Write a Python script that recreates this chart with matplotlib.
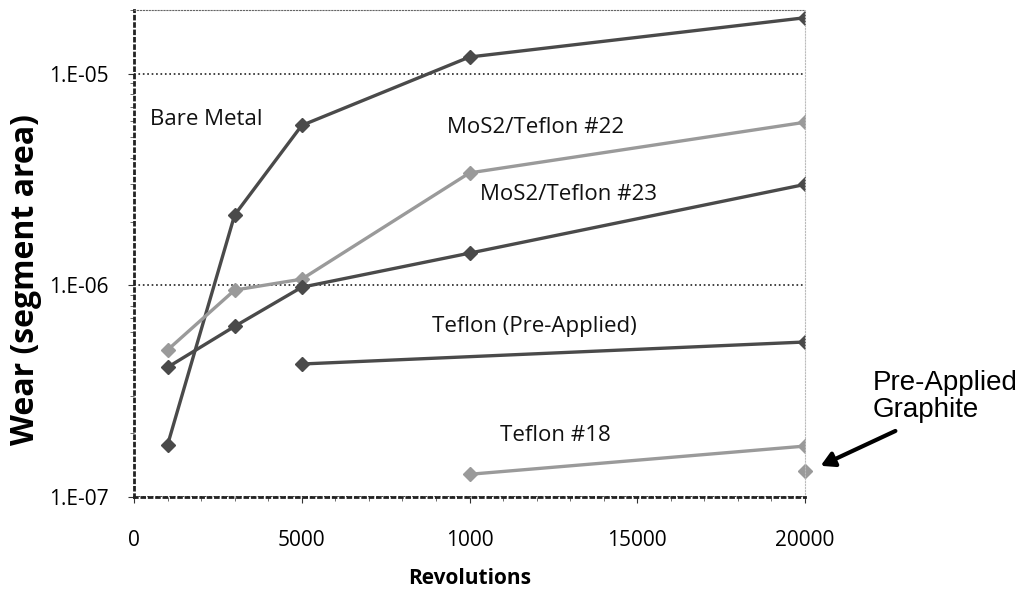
import numpy as np
import matplotlib.pyplot as plt
from matplotlib.ticker import FixedLocator, FixedFormatter, LogLocator, NullFormatter

# data
bare_x = [1000, 3000, 5000, 10000, 20000]
bare_y = [1.76e-7, 2.15e-6, 5.7e-6, 1.2e-5, 1.84e-5]

mos22_x = [1000, 3000, 5000, 10000, 20000]
mos22_y = [4.95e-7, 9.5e-7, 1.07e-6, 3.4e-6, 5.9e-6]

mos23_x = [1000, 3000, 5000, 10000, 20000]
mos23_y = [4.1e-7, 6.4e-7, 9.8e-7, 1.42e-6, 3.0e-6]

tef_pre_x = [5000, 20000]
tef_pre_y = [4.25e-7, 5.4e-7]

tef18_x = [10000, 20000]
tef18_y = [1.28e-7, 1.74e-7]

graphite_x = [20000]
graphite_y = [1.33e-7]

xticks = [0, 5000, 10000, 15000, 20000]
xtick_labels = ['0', '5000', '1000', '15000', '20000']
yticks = [1e-7, 1e-6, 1e-5]
ytick_labels = ['1.E-07', '1.E-06', '1.E-05']

dark = '#4a4a4a'
light = '#9a9a9a'

plt.rcParams['font.family'] = ['Open Sans', 'DejaVu Sans']

fig = plt.figure(figsize=(10.25, 5.92), dpi=100)
ax = fig.add_axes([0.1307, 0.1605, 0.6547, 0.8225])

kw = dict(lw=2.4, marker='D', markersize=7)
ax.plot(bare_x, bare_y, color=dark, **kw)
ax.plot(mos22_x, mos22_y, color=light, **kw)
ax.plot(mos23_x, mos23_y, color=dark, **kw)
ax.plot(tef_pre_x, tef_pre_y, color=dark, **kw)
ax.plot(tef18_x, tef18_y, color=light, **kw)
ax.plot(graphite_x, graphite_y, color=light, lw=0, marker='D', markersize=7, clip_on=False)

ax.set_yscale('log')
ax.set_xlim(0, 20000)
ax.set_ylim(1e-7, 2e-5)

ax.xaxis.set_major_locator(FixedLocator(xticks))
ax.xaxis.set_major_formatter(FixedFormatter(xtick_labels))
ax.xaxis.set_minor_locator(FixedLocator(np.arange(0, 20001, 1000)))
ax.yaxis.set_major_locator(FixedLocator(yticks))
ax.yaxis.set_major_formatter(FixedFormatter(ytick_labels))
ax.yaxis.set_minor_locator(LogLocator(base=10, subs=np.arange(2, 10)))
ax.yaxis.set_minor_formatter(NullFormatter())

ax.tick_params(axis='both', which='major', labelsize=15, length=4, color='#333333')
ax.tick_params(axis='both', which='minor', length=3, color='#555555')
ax.tick_params(axis='y', which='major', pad=14)
ax.tick_params(axis='x', which='major', pad=20)

ax.grid(True, which='major', axis='y', linestyle=':', color='#222222', lw=1.2)

for side in ['left', 'bottom']:
    ax.spines[side].set_linestyle(':')
    ax.spines[side].set_linewidth(2)
    ax.spines[side].set_color('#222222')
ax.spines['top'].set_linestyle(':')
ax.spines['top'].set_color('#666666')
ax.spines['right'].set_linestyle(':')
ax.spines['right'].set_color('#bbbbbb')

ax.set_ylabel('Wear (segment area)', fontsize=23, fontweight='bold')
ax.yaxis.set_label_coords(-0.137, 0.446)
ax.set_xlabel('Revolutions', fontsize=15, fontweight='bold', labelpad=12)

lab = dict(fontsize=16, color='#111111', va='center', ha='left')
ax.text(480, 6.06e-6, 'Bare Metal', **lab)
ax.text(9330, 5.6e-6, 'MoS2/Teflon #22', **lab)
ax.text(10310, 2.68e-6, 'MoS2/Teflon #23', **lab)
ax.text(8880, 6.36e-7, 'Teflon (Pre-Applied)', **lab)
ax.text(10910, 1.96e-7, 'Teflon #18', **lab)

fig.text(0.851, 0.331, 'Pre-Applied\nGraphite', fontsize=20, family='Liberation Sans',
         ha='left', va='center', linespacing=1.05)
ax.annotate('', xy=(20390, 1.386e-7), xycoords='data',
            xytext=(0.876, 0.274), textcoords='figure fraction',
            arrowprops=dict(arrowstyle='-|>,head_length=0.8,head_width=0.45', lw=3, color='black'),
            annotation_clip=False)

fig.savefig('out.png', dpi=100)
